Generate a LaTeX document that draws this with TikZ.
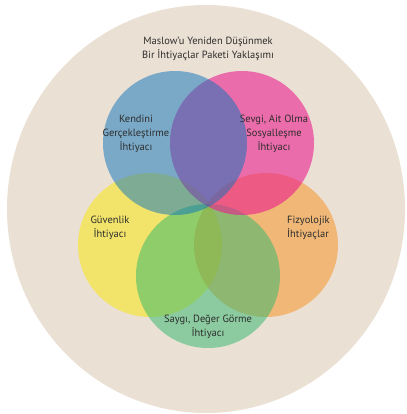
\documentclass[tikz,border=0pt]{standalone}
\usepackage{fontspec}
\setmainfont{PT Sans}
\definecolor{bgbeige}{RGB}{235,224,212}
\definecolor{cyellow}{RGB}{242,228,106}
\definecolor{corange}{RGB}{245,144,28}
\definecolor{cgreen}{RGB}{45,184,108}
\definecolor{cpink}{RGB}{235,31,142}
\definecolor{cblue}{RGB}{9,116,188}
\definecolor{txt}{RGB}{45,45,45}
\begin{document}
\begin{tikzpicture}[x=1bp,y=-1bp,
  lbl/.style={text=txt,font=\fontsize{10.5}{13.8}\selectfont,align=center,inner sep=0pt}]
\useasboundingbox (0,0) rectangle (407,414);
\fill[white] (0,0) rectangle (407,414);
\fill[bgbeige] (206,209) ellipse [x radius=199, y radius=204];
\fill[cyellow] (150,245) circle [radius=72];
\fill[corange,fill opacity=0.5] (266,245) circle [radius=72];
\fill[cgreen,fill opacity=0.5] (208,276) circle [radius=72];
\fill[cpink,fill opacity=0.6] (242,143) circle [radius=72];
\fill[cblue,fill opacity=0.5] (175,143) circle [radius=72];
\node[lbl] (title) at (208,49) {Maslow'u Yeniden Düşünmek\\Bir İhtiyaçlar Paketi Yaklaşımı};
\node[lbl] (kendini) at (136,134) {Kendini\\Gerçekleştirme\\İhtiyacı};
\node[lbl] (sevgi) at (274,134) {Sevgi, Ait Olma\\Sosyalleşme\\İhtiyacı};
\node[lbl] (guvenlik) at (110,228) {Güvenlik\\İhtiyacı};
\node[lbl,align=left,anchor=west] (fizyo) at (287,228) {Fizyolojik\\İhtiyaçlar};
\node[lbl] (saygi) at (208,327) {Saygı, Değer Görme\\İhtiyacı};
\end{tikzpicture}
\end{document}
